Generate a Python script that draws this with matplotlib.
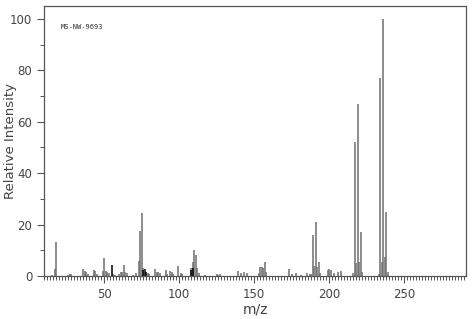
import matplotlib
matplotlib.use("Agg")
import matplotlib.pyplot as plt
from matplotlib.ticker import MultipleLocator

# gray peaks (m/z, relative intensity)
mz = [15, 17, 18, 26, 27, 28, 36, 37, 38, 39, 43, 44, 45, 49, 50, 51, 52, 53,
      56, 57, 60, 61, 62, 63, 64, 65, 69, 71, 73, 74, 75, 76, 79, 80, 84, 85,
      86, 87, 91, 92, 94, 95, 96, 99, 101, 102, 108, 109, 110, 111, 112, 113,
      117, 125, 126, 127, 139, 141, 143, 145, 153, 154, 155, 156, 157, 158,
      173, 175, 178, 181, 185, 187, 188, 189, 190, 191, 192, 193, 194, 199,
      200, 201, 203, 206, 208, 216, 217, 218, 219, 220, 221, 222, 233, 234,
      235, 236, 237, 238, 239]
inten = [0.5, 2.7, 13.3, 0.4, 0.6, 0.8, 2.6, 2.0, 1.5, 0.8, 2.3, 2.0, 0.8, 1.8,
         6.9, 1.8, 1.5, 1.2, 0.6, 0.5, 0.8, 1.5, 1.6, 4.2, 1.5, 1.2, 0.5, 1.3,
         5.8, 17.6, 24.6, 3.2, 1.0, 0.8, 2.8, 1.5, 1.5, 1.0, 2.5, 0.8, 1.8, 1.5,
         0.8, 3.9, 1.0, 0.8, 3.0, 5.4, 10.1, 8.2, 3.0, 1.2, 0.5, 0.6, 0.5, 0.6,
         2.0, 1.0, 1.5, 1.2, 1.0, 3.5, 3.6, 3.0, 5.4, 1.5, 2.6, 0.8, 1.0, 0.5,
         1.0, 0.8, 0.6, 16.1, 4.0, 21.0, 3.5, 5.3, 1.0, 2.5, 2.6, 2.2, 1.0, 1.5,
         2.0, 1.0, 52.1, 4.9, 66.8, 5.5, 17.0, 1.5, 0.8, 77.2, 5.5, 100.0, 7.5,
         24.9, 1.5]

# black peaks
mz_k = [55, 76, 77, 78, 108, 109]
inten_k = [4.3, 2.4, 2.8, 1.6, 2.5, 3.2]

label_text = "MS-NW-9693"

GRAY = "#6e6e6e"
AX = "#555555"

fig = plt.figure(figsize=(4.74, 3.19), dpi=100)
ax = fig.add_axes([0.093, 0.135, 0.890, 0.846])
ax.vlines(mz, 0, inten, color=GRAY, lw=1.1)
ax.vlines(mz_k, 0, inten_k, color="black", lw=1.1)

ax.set_xlim(10, 291)
ax.set_ylim(0, 105)
ax.xaxis.set_major_locator(MultipleLocator(50))
ax.xaxis.set_minor_locator(MultipleLocator(2))
ax.yaxis.set_major_locator(MultipleLocator(20))
ax.yaxis.set_minor_locator(MultipleLocator(10))
ax.tick_params(which="major", direction="out", length=5, width=0.8, color=AX,
               labelsize=8.5, labelcolor="#444444")
ax.tick_params(which="minor", direction="out", length=3, width=0.7, color=AX)
for s in ax.spines.values():
    s.set_color(AX)
    s.set_linewidth(0.9)

ax.set_xlabel("m/z", fontsize=10, color="#444444", labelpad=1)
ax.set_ylabel("Relative Intensity", fontsize=9.5, color="#444444")
ax.yaxis.set_label_coords(-0.064, 0.5)
ax.text(0.04, 0.915, label_text, transform=ax.transAxes, fontsize=5,
        color="#333333", family="DejaVu Sans Mono")

fig.savefig("out.png", dpi=100, facecolor="white")
